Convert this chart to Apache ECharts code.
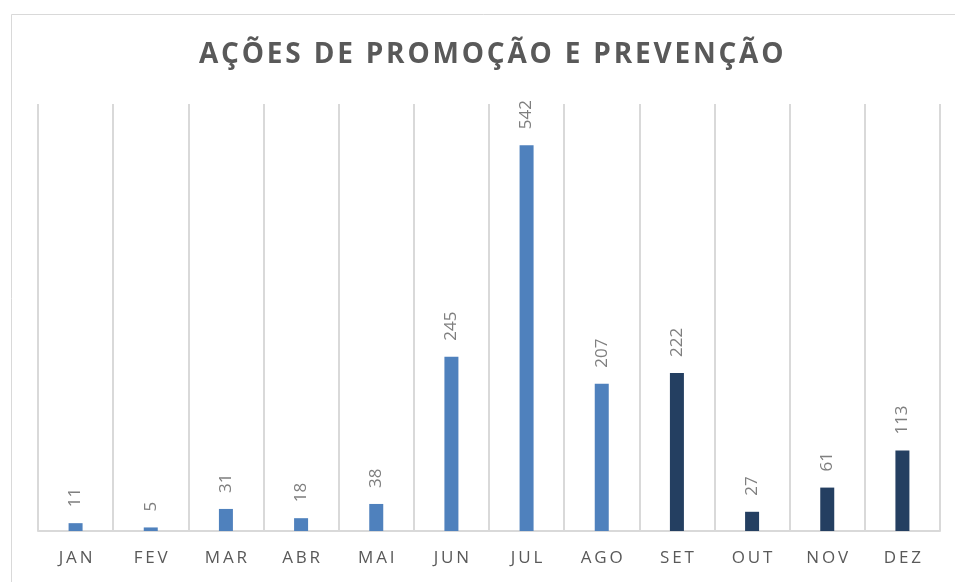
<!DOCTYPE html>
<html>
<head>
<meta charset="utf-8">
<script src="https://cdn.jsdelivr.net/npm/echarts@6/dist/echarts.min.js"></script>
<style>html,body{margin:0;padding:0;background:#fff}#c{width:955px;height:582px}</style>
</head>
<body>
<div id="c"></div>
<script>
const titleText = 'AÇÕES DE PROMOÇÃO E PREVENÇÃO';
const categories = ['JAN','FEV','MAR','ABR','MAI','JUN','JUL','AGO','SET','OUT','NOV','DEZ'];
const values = [11, 5, 31, 18, 38, 245, 542, 207, 222, 27, 61, 113];
const barColors = ['#4F81BD','#4F81BD','#4F81BD','#4F81BD','#4F81BD','#4F81BD','#4F81BD','#4F81BD','#243F61','#243F61','#243F61','#243F61'];

function spaced(s, sp) { return s.split('').join(sp); }

const chart = echarts.init(document.getElementById('c'), null, {renderer: 'canvas'});
chart.setOption({
  animation: false,
  backgroundColor: '#fff',
  graphic: [{
    type: 'rect', left: 9, top: 12, z: -1,
    shape: {width: 960, height: 568},
    style: {fill: 'none', stroke: '#d9d9d9', lineWidth: 1}
  }],
  title: {
    text: spaced(titleText, '\u200A'),
    left: 194, top: 36,
    textStyle: {fontFamily: 'Open Sans', fontWeight: 'bold', fontSize: 28, color: '#595959'}
  },
  grid: {left: 38, right: 15, top: 104, bottom: 51},
  xAxis: {
    type: 'category',
    data: categories,
    axisLine: {lineStyle: {color: '#d9d9d9', width: 2}},
    axisTick: {show: false},
    splitLine: {show: true, lineStyle: {color: '#d9d9d9', width: 2}},
    axisLabel: {
      margin: 19, color: '#595959', fontFamily: 'Open Sans', fontSize: 17,
      formatter: v => spaced(v, '\u2009')
    }
  },
  yAxis: {
    type: 'value', min: 0, max: 600,
    show: false,
    splitLine: {show: false}
  },
  series: [{
    type: 'bar',
    barWidth: 14,
    data: values.map((v, i) => ({value: v, itemStyle: {color: barColors[i]}})),
    label: {
      show: true, position: 'top', rotate: 90, distance: 16,
      align: 'left', verticalAlign: 'middle',
      color: '#7f7f7f', fontFamily: 'Open Sans', fontSize: 17
    }
  }]
});
</script>
</body>
</html>
